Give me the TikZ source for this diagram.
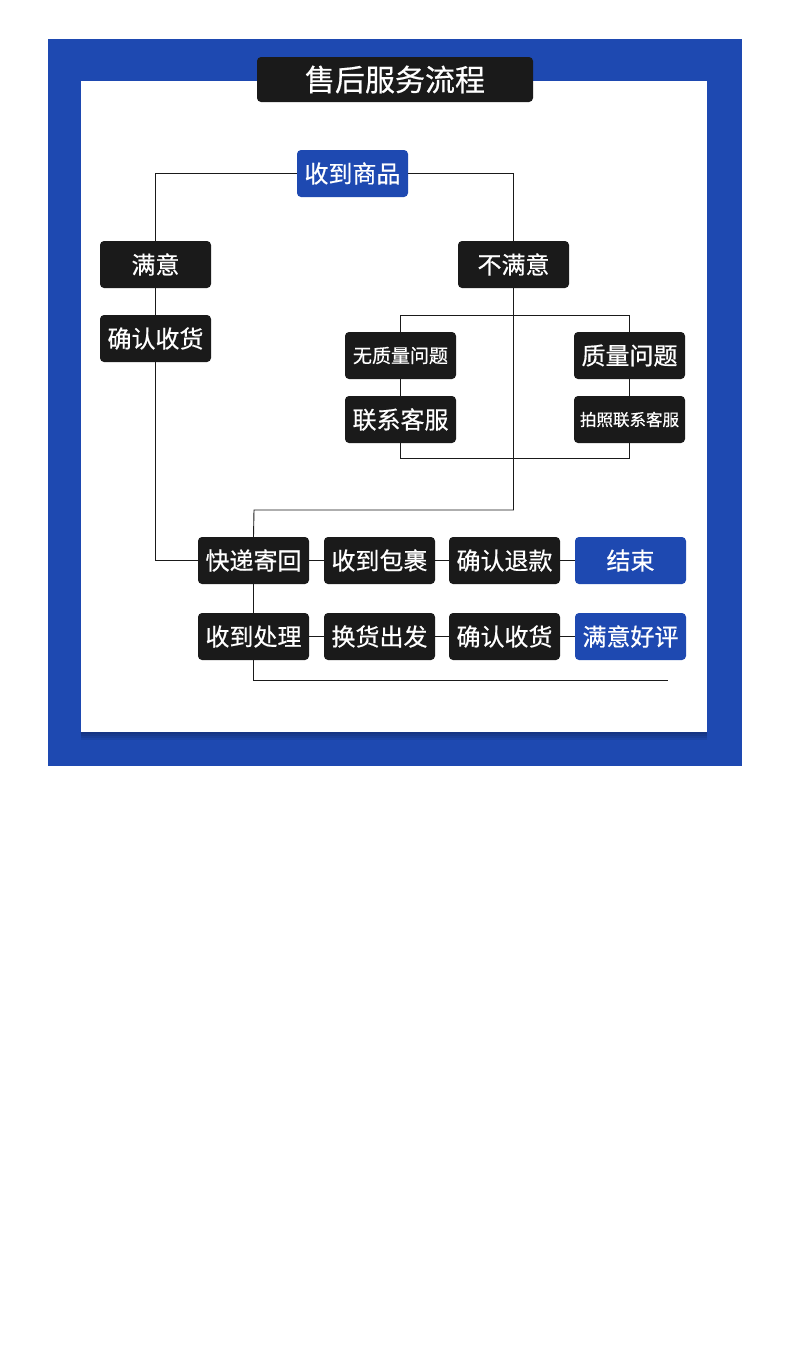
\documentclass[tikz,border=0pt]{standalone}
\usepackage{fontspec}
\setmainfont{Noto Sans CJK SC}[FakeBold=0.5]
\usepackage{tikz}
\usetikzlibrary{positioning, calc}
\definecolor{svcblue}{HTML}{1E49B1}
\definecolor{svcdark}{HTML}{1A1A1A}

\begin{document}
\begin{tikzpicture}[
    x=1pt, y=-1pt,
    box/.style={rectangle, fill=svcdark, text=white, minimum width=111pt,
               minimum height=47pt, inner sep=0pt, rounded corners=4pt,
               font=\fontsize{24}{26}\selectfont},
    bluebox/.style={box, fill=svcblue},
    titlebox/.style={box, minimum width=276pt, minimum height=45pt,
                    font=\fontsize{30}{32}\selectfont},
    link/.style={draw=svcdark, line width=0.9pt}
]
\useasboundingbox (0,0) rectangle (790,1369);

% Frame
\fill[svcblue] (48,39) rectangle (742,766);
\foreach \d in {2,4,6,8}
  \fill[black, opacity=0.07] (81,732) rectangle (707,732+\d);
\fill[white] (81,81) rectangle (707,732);

% Title
\node[titlebox] at (395,79.5) (title) {售后服务流程};

% Upper part
\node[bluebox] at (352.5,173.5) (goods) {收到商品};
\node[box] at (155.5,264.5) (sat) {满意};
\node[box] at (513.5,264.5) (unsat) {不满意};
\node[box] at (155.5,338.5) (confirm) {确认收货};

\node[box, font=\fontsize{19}{21}\selectfont] at (400.5,355.5) (noq) {无质量问题};
\node[box] at (629.5,355.5) (q) {质量问题};
\node[box] at (400.5,419.5) (contact) {联系客服};
\node[box, font=\fontsize{16.5}{18}\selectfont] at (629.5,419.5) (photo) {拍照联系客服};

% Bottom rows
\node[box] at (253.5,560.5) (send) {快递寄回};
\node[box] at (379.5,560.5) (parcel) {收到包裹};
\node[box] at (504.5,560.5) (refund) {确认退款};
\node[bluebox] at (630.5,560.5) (finish) {结束};

\node[box] at (253.5,636.5) (handle) {收到处理};
\node[box] at (379.5,636.5) (ship) {换货出发};
\node[box] at (504.5,636.5) (confirm2) {确认收货};
\node[bluebox] at (630.5,636.5) (praise) {满意好评};

\coordinate (turn) at (254,510);
\coordinate (tail) at (668,680);

% Connectors
\draw[link] (goods.west) -| (sat.north);
\draw[link] (goods.east) -| (unsat.north);
\draw[link] (sat) -- (confirm);
\draw[link] (confirm.south) |- (send.west);
\draw[link] (unsat.south) |- (turn) -- (send.north);

\draw[link] (noq.north) -- ++(0,-16) -| (q.north);
\draw[link] (contact.south) -- ++(0,15) -| (photo.south);
\draw[link] (noq) -- (contact);
\draw[link] (q) -- (photo);

\draw[link] (send) -- (parcel);
\draw[link] (parcel) -- (refund);
\draw[link] (refund) -- (finish);
\draw[link] (send) -- (handle);
\draw[link] (handle) -- (ship);
\draw[link] (ship) -- (confirm2);
\draw[link] (confirm2) -- (praise);
\draw[link] (handle.south) |- (tail);

\end{tikzpicture}
\end{document}
